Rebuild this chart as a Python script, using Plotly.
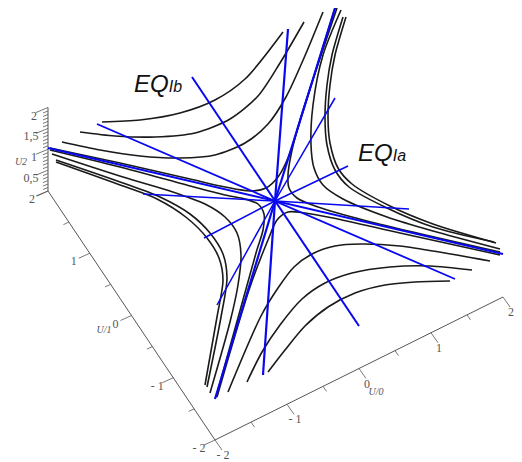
import plotly.graph_objects as go

# Black curves (projected x, y of the 3D view).
curve_a_x = [102, 140, 180, 215, 245, 283]
curve_a_y = [122, 120, 113, 100, 79, 32]
curve_b_x = [80, 115, 155, 195, 230, 258, 280, 304]
curve_b_y = [132, 136, 137, 133, 119, 96, 63, 22]
curve_c_x = [62, 100, 140, 180, 215, 245, 268, 286, 304, 323]
curve_c_y = [142, 150, 156, 158, 155, 143, 124, 97, 58, 12]
curve_d_x = [50, 120, 190, 225, 250, 266, 278, 288, 298, 335]
curve_d_y = [148, 163, 179, 187, 191, 188, 177, 158, 128, 8]

curve_e_x = [341, 323, 313, 311, 314, 323, 343, 387, 433, 500]
curve_e_y = [10, 55, 105, 145, 168, 185, 199, 217, 231, 249]
curve_f_x = [337, 300, 291, 288, 289, 297, 315, 367, 500]
curve_f_y = [8, 120, 155, 175, 188, 198, 206, 221, 252]
curve_g_x = [346, 335, 330, 328, 330, 338, 352, 390, 433, 496]
curve_g_y = [17, 55, 85, 117, 143, 168, 184, 206, 224, 243]
curve_h_x = [343, 332, 327, 325, 327, 335, 349, 387, 433, 494]
curve_h_y = [17, 55, 85, 117, 145, 170, 187, 208, 227, 242]

curve_i_x = [490, 445, 400, 361, 335, 312, 294, 278, 261, 228]
curve_i_y = [261, 253, 246, 244, 246, 254, 267, 288, 316, 392]
curve_j_x = [472, 430, 390, 352, 325, 302, 280, 262, 247]
curve_j_y = [270, 266, 267, 273, 283, 299, 325, 352, 382]
curve_k_x = [450, 415, 385, 355, 328, 305, 285, 268]
curve_k_y = [281, 282, 285, 293, 307, 326, 350, 372]
curve_n_x = [500, 400, 333, 305, 288, 277, 268, 250, 217]
curve_n_y = [255, 233, 218, 213, 212, 220, 240, 287, 397]

curve_l1_x = [56, 123, 160, 190, 210, 223, 227, 221, 207]
curve_l1_y = [160, 183, 197, 214, 233, 254, 278, 317, 387]
curve_l2_x = [56, 123, 157, 187, 207, 219, 223, 217, 205]
curve_l2_y = [162, 186, 199, 218, 238, 258, 280, 317, 385]
curve_m_x = [52, 123, 170, 205, 225, 237, 241, 238, 230, 210]
curve_m_y = [154, 177, 191, 204, 217, 233, 255, 285, 322, 393]
curve_p_x = [50, 120, 190, 225, 245, 258, 264, 263, 256, 216]
curve_p_y = [150, 167, 186, 195, 199, 204, 214, 230, 253, 397]

black_curves = [
    (curve_a_x, curve_a_y), (curve_b_x, curve_b_y), (curve_c_x, curve_c_y), (curve_d_x, curve_d_y),
    (curve_e_x, curve_e_y), (curve_f_x, curve_f_y), (curve_g_x, curve_g_y), (curve_h_x, curve_h_y),
    (curve_i_x, curve_i_y), (curve_j_x, curve_j_y), (curve_k_x, curve_k_y), (curve_n_x, curve_n_y),
    (curve_l1_x, curve_l1_y), (curve_l2_x, curve_l2_y), (curve_m_x, curve_m_y), (curve_p_x, curve_p_y),
]

# Blue straight lines through the common centre.
center = (275, 201)
blue_ends = [
    ((192, 77), (359, 326), 2),
    ((97, 124), (455, 279), 1.8),
    ((143, 194), (409, 209), 1.5),
    ((204, 238), (348, 166), 1.5),
    ((217, 305), (335, 98), 1.5),
    ((215, 399), (336, 5), 2.2),
    ((263, 375), (288, 29), 2.2),
    ((48, 148), (503, 254), 2),
]

u0_ticks = [-2, -1, 0, 1, 2]
u0_labels = ["- 2", "- 1", "0", "1", "2"]
u1_ticks = [-2, -1, 0, 1, 2]
u1_labels = ["- 2", "- 1", "0", "1", "2"]
u2_ticks = [0.5, 1, 1.5, 2]
u2_labels = ["0,5", "1", "1,5", "2"]


def project(u0, u1, u2=0):
    """Fixed orthographic view of the box."""
    return (215 + 72 * (u0 + 2) - 41.75 * (u1 + 2),
            440 - 35.75 * (u0 + 2) - 62.25 * (u1 + 2) - 41.75 * u2)


def tick_segments(points, dx, dy):
    xs, ys = [], []
    for p in points:
        xs += [p[0], p[0] + dx, None]
        ys += [p[1], p[1] + dy, None]
    return xs, ys


grey = "#555555"
fig = go.Figure()

# Box axes
corners = [project(2, -2), project(-2, -2), project(-2, 2), project(-2, 2, 2)]
fig.add_trace(go.Scatter(x=[c[0] for c in corners], y=[c[1] for c in corners], mode="lines",
                         line=dict(color=grey, width=1), hoverinfo="skip"))

# Major and minor ticks
ticks = [
    ([project(u, -2) for u in u0_ticks], 7, 10),
    ([project(u + 0.5, -2) for u in u0_ticks[:-1]], 3.5, 5),
    ([project(-2, u) for u in u1_ticks], -11, 5),
    ([project(-2, u + 0.5) for u in u1_ticks[:-1]], -5.5, 2.5),
    ([project(-2, 2, u) for u in [0] + u2_ticks], -12, 5),
    ([project(-2, 2, i / 12) for i in range(1, 24) if i % 6], -5, 2),
]
for pts, dx, dy in ticks:
    xs, ys = tick_segments(pts, dx, dy)
    fig.add_trace(go.Scatter(x=xs, y=ys, mode="lines", line=dict(color=grey, width=0.8), hoverinfo="skip"))

# Tick labels
label_x, label_y, label_text = [], [], []
for u, t in zip(u0_ticks, u0_labels):
    p = project(u, -2)
    label_x.append(p[0] + 8)
    label_y.append(p[1] + 16)
    label_text.append(t)
for u, t in zip(u1_ticks, u1_labels):
    p = project(-2, u)
    label_x.append(p[0] - 16)
    label_y.append(p[1] + 9)
    label_text.append(t)
for u, t in zip(u2_ticks, u2_labels):
    p = project(-2, 2, u)
    label_x.append(p[0] - (14 if len(t) == 1 else 17))
    label_y.append(p[1] + 9)
    label_text.append(t)
fig.add_trace(go.Scatter(x=label_x, y=label_y, text=label_text, mode="text",
                         textfont=dict(family="Liberation Serif", size=12, color=grey), hoverinfo="skip"))

# Axis titles
fig.add_trace(go.Scatter(x=[376, 104, 21], y=[392, 330, 162], text=["U/0", "U/1", "U2"], mode="text",
                         textfont=dict(family="Liberation Serif", size=10, color=grey, style="italic"),
                         hoverinfo="skip"))

# Curves
for cx, cy in black_curves:
    fig.add_trace(go.Scatter(x=cx, y=cy, mode="lines",
                             line=dict(color="#1a1a1a", width=1.6, shape="spline", smoothing=0.8),
                             hoverinfo="skip"))

# Blue lines
for a, b, w in blue_ends:
    fig.add_trace(go.Scatter(x=[a[0], center[0], b[0]], y=[a[1], center[1], b[1]], mode="lines",
                             line=dict(color="#0808f0", width=w), hoverinfo="skip"))

for x, y, name in [(158, 83, "Ib"), (382, 152, "Ia")]:
    fig.add_annotation(x=x, y=y, xref="x", yref="y", showarrow=False,
                       text="<i>EQ<span style='font-size:16px'>" + name + "</span></i>",
                       font=dict(family="Liberation Sans", size=24, color="#111111"))

# The page has an 8 px body margin, so the plot covers 8..522 of the window.
fig.update_layout(width=514, height=454, margin=dict(l=0, r=0, t=0, b=0), showlegend=False,
                  paper_bgcolor="white", plot_bgcolor="white",
                  xaxis=dict(range=[8, 522], visible=False),
                  yaxis=dict(range=[462, 8], visible=False))

fig.write_html("out.html")
